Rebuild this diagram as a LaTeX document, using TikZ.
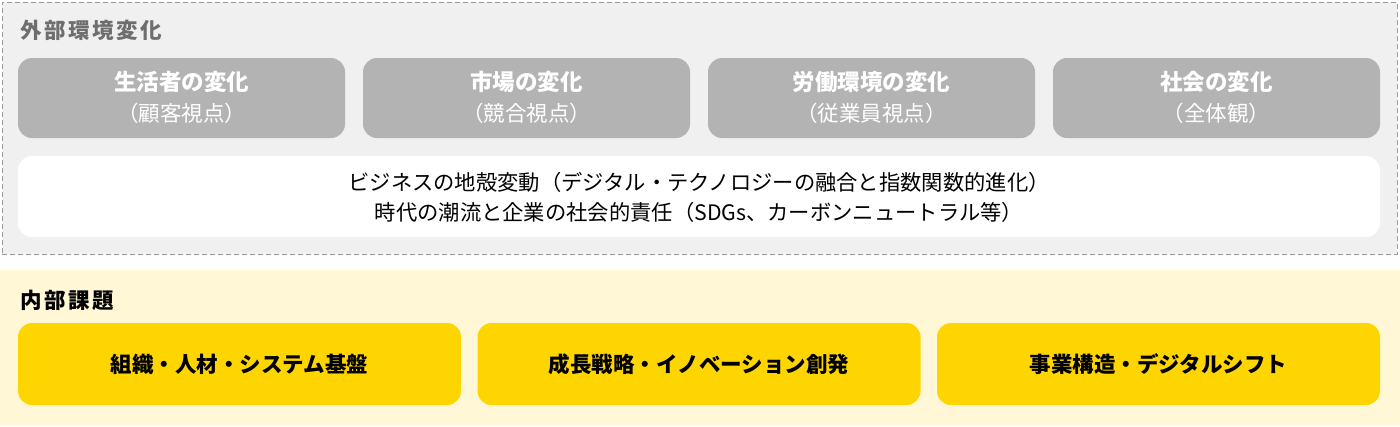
\documentclass[tikz,border=0pt]{standalone}
\usepackage{fontspec}
\setmainfont{Noto Sans CJK JP}
\definecolor{outerbg}{HTML}{F0F0F0}
\definecolor{outerline}{HTML}{9A9A9A}
\definecolor{graytitle}{HTML}{6E6E6E}
\definecolor{graybox}{HTML}{B3B3B3}
\definecolor{yellowbg}{HTML}{FFF7D6}
\definecolor{yellowbox}{HTML}{FFD500}
\tikzset{
  graycard/.style={rectangle, rounded corners=14pt, fill=graybox, minimum width=327pt, minimum height=80pt, inner sep=0pt},
  whitecard/.style={rectangle, rounded corners=14pt, fill=white, minimum width=1362pt, minimum height=81pt, inner sep=0pt},
  yellowcard/.style={rectangle, rounded corners=14pt, fill=yellowbox, minimum width=443pt, minimum height=82pt, inner sep=0pt},
  headtxt/.style={inner sep=0pt, text=white, font=\fontsize{22.5}{26}\selectfont\bfseries},
  subtxt/.style={inner sep=0pt, text=white, font=\fontsize{21.5}{25}\selectfont},
  bodytxt/.style={inner sep=0pt, text=black, font=\fontsize{21.3}{25}\selectfont},
  yellowtxt/.style={inner sep=0pt, text=black, font=\fontsize{21.5}{26}\selectfont\bfseries},
  sectitle/.style={inner sep=0pt, anchor=west, font=\fontsize{21.5}{25}\selectfont\bfseries\addfontfeature{LetterSpace=12}}
}
\begin{document}
\begin{tikzpicture}[x=1pt,y=-1pt]
\useasboundingbox (0,0) rectangle (1400,426);
% outer external frame
\node[draw=outerline, dash pattern=on 5pt off 3pt, fill=outerbg, line width=0.8pt, minimum width=1395pt, minimum height=252pt, inner sep=0pt] (outer) at (699.5,128) {};
\node[sectitle, text=graytitle] (exttitle) at (20,30) {外部環境変化};
% gray cards
\node[graycard] (g1) at (181.5,98) {};
\node[graycard] (g2) at (526.5,98) {};
\node[graycard] (g3) at (871.5,98) {};
\node[graycard] (g4) at (1216.5,98) {};
\node[headtxt] (g1a) at ([yshift=16pt]g1.center) {生活者の変化};
\node[subtxt] (g1b) at ([yshift=-15pt]g1.center) {（顧客視点）};
\node[headtxt] (g2a) at ([yshift=16pt]g2.center) {市場の変化};
\node[subtxt] (g2b) at ([yshift=-15pt]g2.center) {（競合視点）};
\node[headtxt] (g3a) at ([yshift=16pt]g3.center) {労働環境の変化};
\node[subtxt] (g3b) at ([yshift=-15pt]g3.center) {（従業員視点）};
\node[headtxt] (g4a) at ([yshift=16pt]g4.center) {社会の変化};
\node[subtxt] (g4b) at ([yshift=-15pt]g4.center) {（全体観）};
% white card
\node[whitecard] (w) at (699,196.5) {};
\node[bodytxt] (w1) at ([yshift=14pt]w.center) {ビジネスの地殻変動（デジタル・テクノロジーの融合と指数関数的進化）};
\node[bodytxt] (w2) at ([yshift=-16pt]w.center) {時代の潮流と企業の社会的責任（SDGs、カーボンニュートラル等）};
% internal
\node[fill=yellowbg, minimum width=1400pt, minimum height=156pt, inner sep=0pt] (inner) at (700,348) {};
\node[sectitle, text=black] (inttitle) at (20,300) {内部課題};
\node[yellowcard] (y1) at (239.5,364) {};
\node[yellowcard] (y2) at (699,364) {};
\node[yellowcard] (y3) at (1158.5,364) {};
\node[yellowtxt] (y1t) at (y1.center) {組織・人材・システム基盤};
\node[yellowtxt] (y2t) at (y2.center) {成長戦略・イノベーション創発};
\node[yellowtxt] (y3t) at (y3.center) {事業構造・デジタルシフト};
\end{tikzpicture}
\end{document}
